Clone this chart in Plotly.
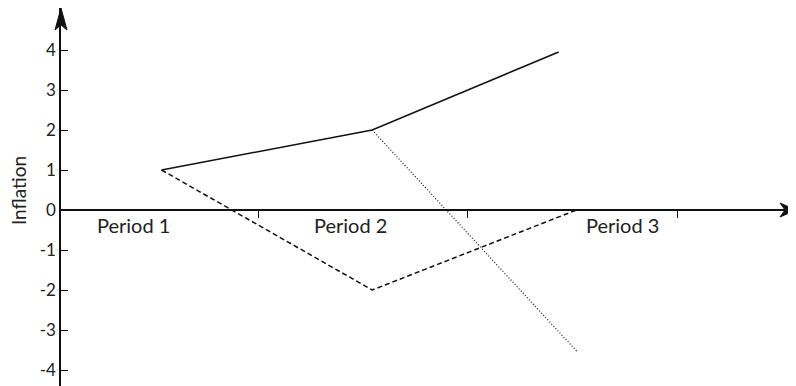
import plotly.graph_objects as go

# data (x in "period" units, ticks at 1, 2, 3)
solid_x = [0.54, 1.545, 2.435]
solid_y = [1, 2, 3.95]
dashed_x = [0.54, 1.545, 2.52]
dashed_y = [1, -2, 0]
dotted_x = [1.545, 2.525]
dotted_y = [2, -3.55]

period_ticks = [1, 2, 3]
period_labels = ["Period 1", "Period 2", "Period 3"]
period_label_x = [0.405, 1.44, 2.74]
y_ticks = [4, 3, 2, 1, 0, -1, -2, -3, -4]

FONT = "Lato"
INK = "#111111"
TEXT = "#222222"

# the page body adds 8px on the left and top, so the figure is 8px smaller
W, H = 788, 378
L = 53
ZERO_PX = 202  # pixel row of y=0 from the top of the figure

fig = go.Figure()
fig.add_trace(go.Scatter(x=solid_x, y=solid_y, mode="lines",
                         line=dict(color=INK, width=1.5)))
fig.add_trace(go.Scatter(x=dashed_x, y=dashed_y, mode="lines",
                         line=dict(color=INK, width=1.5, dash="5px,3px")))
fig.add_trace(go.Scatter(x=dotted_x, y=dotted_y, mode="lines",
                         line=dict(color=INK, width=1.2, dash="1px,2px")))

for x, t in zip(period_label_x, period_labels):
    fig.add_annotation(x=x, y=-0.03, text=t, showarrow=False, yanchor="top",
                       xanchor="center",
                       font=dict(family=FONT, size=20, color=TEXT))

fig.add_annotation(xref="paper", yref="paper", x=-0.057, y=0.516, text="Inflation",
                   textangle=-90, showarrow=False, xanchor="center", yanchor="middle",
                   font=dict(family=FONT, size=19, color=TEXT))

# arrow heads on both axes (pixel-sized paths)
fig.add_shape(type="path", xref="paper", yref="paper", xsizemode="pixel", ysizemode="pixel",
              xanchor=0, yanchor=1, path="M0,0 L6,-22 L0,-17 L-6,-22 Z",
              fillcolor=INK, line=dict(color=INK, width=1))
fig.add_shape(type="path", xref="paper", yref="y", xsizemode="pixel", ysizemode="pixel",
              xanchor=1, yanchor=0, path="M0,0 L-16,7 L-11,0 L-16,-7 Z",
              fillcolor=INK, line=dict(color=INK, width=1))

fig.update_layout(
    width=W, height=H,
    margin=dict(l=L, r=0, t=0, b=0, autoexpand=False),
    plot_bgcolor="white", paper_bgcolor="white",
    showlegend=False,
    xaxis=dict(range=[0.0597, 3.568], anchor="free", position=(H - ZERO_PX) / H,
               automargin=False,
               showline=True, linecolor=INK, linewidth=1.5,
               tickvals=period_ticks, showticklabels=False,
               ticks="outside", ticklen=7, tickcolor=INK, tickwidth=1,
               showgrid=False, zeroline=False),
    yaxis=dict(range=[-(H - ZERO_PX) / 40, ZERO_PX / 40], automargin=False,
               showline=True, linecolor=INK, linewidth=1.5,
               tickvals=y_ticks, ticktext=[str(v) for v in y_ticks],
               ticks="inside", ticklen=7, tickcolor=INK, tickwidth=1,
               tickfont=dict(family=FONT, size=17, color=TEXT),
               showgrid=False, zeroline=False),
)

fig.write_html("out.html")
